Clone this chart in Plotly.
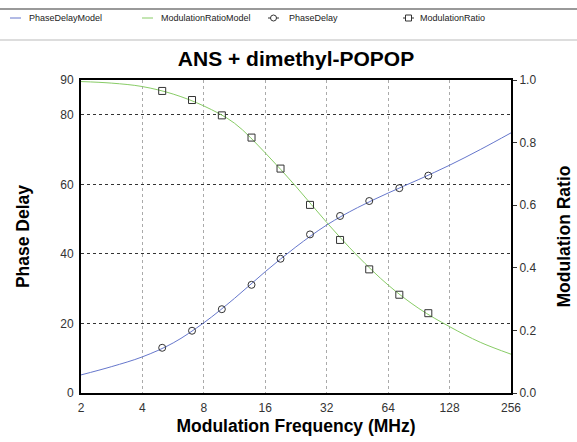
import plotly.graph_objects as go

# Measured data
freq_meas = [5.0, 7.0, 9.8, 13.7, 19.0, 26.5, 37.2, 51.7, 72.6, 100.7]
phase_meas = [13.0, 17.9, 24.1, 31.1, 38.6, 45.6, 50.9, 55.2, 58.9, 62.5]
mod_meas = [0.965, 0.936, 0.887, 0.816, 0.717, 0.601, 0.489, 0.395, 0.314, 0.255]

# Model curves
freq_model = [2, 2.83, 4, 5.66, 8, 11.3, 16, 22.6, 32, 45.3, 64, 90.5, 128, 181, 256]
phase_model = [5.2, 7.6, 10.4, 14.4, 20.2, 27.2, 34.9, 42.0, 48.3, 53.3, 57.5, 61.4, 65.5, 70.0, 74.8]
mod_model = [0.995, 0.99, 0.979, 0.955, 0.917, 0.862, 0.767, 0.660, 0.545, 0.438, 0.345, 0.27, 0.212, 0.162, 0.124]

x_ticks = [2, 4, 8, 16, 32, 64, 128, 256]
y1_ticks = [0, 20, 40, 60, 80, 90]
y2_ticks = [0, 0.2, 0.4, 0.6, 0.8, 1.0]
y2_text = ["0.0", "0.2", "0.4", "0.6", "0.8", "1.0"]

legend_names = ["PhaseDelayModel", "ModulationRatioModel", "PhaseDelay", "ModulationRatio"]

BLUE = "#6677cc"
GREEN = "#88cc66"
MK = "#333333"
FONT = "Liberation Sans, Arial, sans-serif"

fig = go.Figure()
fig.add_trace(go.Scatter(x=freq_model, y=phase_model, mode="lines", name=legend_names[0],
                         line=dict(color=BLUE, width=1, shape="spline")))
fig.add_trace(go.Scatter(x=freq_model, y=mod_model, mode="lines", name=legend_names[1],
                         line=dict(color=GREEN, width=1, shape="spline"), yaxis="y2"))
fig.add_trace(go.Scatter(x=freq_meas, y=phase_meas, mode="markers", name=legend_names[2],
                         marker=dict(symbol="circle-open", size=7, color=MK, line=dict(width=1, color=MK))))
fig.add_trace(go.Scatter(x=freq_meas, y=mod_meas, mode="markers", name=legend_names[3],
                         marker=dict(symbol="square-open", size=7, color=MK, line=dict(width=1, color=MK)),
                         yaxis="y2"))

W, H = 577, 442
L, R, T, B = 81, 66, 80, 49
ph = H - T - B
pw = W - L - R


def px(x):
    return (x - L) / pw


def py(y):
    return (H - B - y) / ph


shapes = [
    dict(type="line", xref="paper", yref="paper", x0=px(0), x1=px(W),
         y0=py(9), y1=py(9), line=dict(color="#999999", width=2)),
    dict(type="line", xref="paper", yref="paper", x0=px(0), x1=px(W),
         y0=py(40), y1=py(40), line=dict(color="#bbbbbb", width=1)),
]
annotations = []

# Manual legend row
ly = 18
leg_glyph_x = [10, 142, 268, 403]
leg_text_x = [27, 159, 287, 418]
leg_colors = [BLUE, GREEN, MK, MK]
for i, name in enumerate(legend_names):
    gx = leg_glyph_x[i]
    shapes.append(dict(type="line", xref="paper", yref="paper", x0=px(gx), x1=px(gx + 11),
                       y0=py(ly), y1=py(ly), line=dict(color=leg_colors[i], width=1)))
    if i >= 2:
        cx = gx + 5.5
        shapes.append(dict(type="circle" if i == 2 else "rect", xref="paper", yref="paper",
                           x0=px(cx - 3), x1=px(cx + 3), y0=py(ly - 3), y1=py(ly + 3),
                           line=dict(color=MK, width=1), fillcolor="white"))
    annotations.append(dict(text=name, xref="paper", yref="paper", x=px(leg_text_x[i]), y=py(ly),
                            xanchor="left", yanchor="middle", showarrow=False,
                            font=dict(size=9, color="#222222", family=FONT)))

fig.update_layout(
    width=W, height=H,
    margin=dict(l=L, r=R, t=T, b=B, autoexpand=False),
    paper_bgcolor="white", plot_bgcolor="white",
    font=dict(family=FONT, color="#333333", size=12),
    title=dict(text="<b>ANS + dimethyl-POPOP</b>", x=(L + pw / 2) / W, xanchor="center",
               y=1 - 59 / H, yanchor="middle", font=dict(size=21, color="black", family=FONT)),
    showlegend=False,
    xaxis=dict(type="log", range=[0.30103, 2.40824], tickvals=x_ticks, ticktext=[str(v) for v in x_ticks],
               showgrid=True, gridcolor="#aaaaaa", griddash="dot", gridwidth=1,
               showline=True, linecolor="black", linewidth=2, mirror=True, automargin=False,
               ticks="outside", ticklen=3, tickcolor="rgba(0,0,0,0)",
               zeroline=False, tickfont=dict(size=12),
               title=dict(text="<b>Modulation Frequency (MHz)</b>", font=dict(size=17.5, color="black"), standoff=5)),
    yaxis=dict(range=[0, 90], tickvals=y1_ticks, showgrid=True, gridcolor="#333333", griddash="dot",
               gridwidth=1, showline=True, linecolor="black", linewidth=2, mirror=True, automargin=False,
               ticks="outside", ticklen=3, tickcolor="rgba(0,0,0,0)",
               zeroline=False, tickfont=dict(size=12),
               title=dict(text="<b>Phase Delay</b>", font=dict(size=17.5, color="black"), standoff=26)),
    yaxis2=dict(range=[0, 1], overlaying="y", side="right", tickvals=y2_ticks, ticktext=y2_text,
                showgrid=False, showline=True, linecolor="black", linewidth=2, ticks="outside",
                automargin=False,
                ticklen=4, tickcolor="#333333", zeroline=False, tickfont=dict(size=12),
                title=dict(text="<b>Modulation Ratio</b>", font=dict(size=17.5, color="black"), standoff=22)),
    shapes=shapes,
    annotations=annotations,
)

fig.write_html("out.html")
